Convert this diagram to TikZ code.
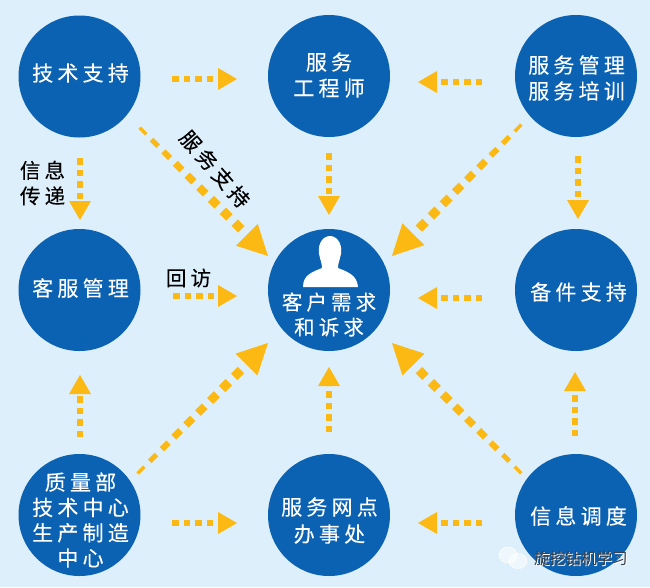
\documentclass[tikz,border=0pt]{standalone}
\usepackage{fontspec}
\usetikzlibrary{calc,arrows.meta}
\newfontfamily\cjk[LetterSpace=20,FakeBold=0.12]{Noto Sans CJK SC}
\newfontfamily\cjkw{Noto Sans CJK SC}
\definecolor{bgblue}{HTML}{DDEFFA}
\definecolor{discblue}{HTML}{0B62B2}
\definecolor{arrowgold}{HTML}{FDB913}
\definecolor{markgray}{HTML}{3A3F45}
\tikzset{
  x=1pt,y=-1pt,
  disc/.style={circle,fill=discblue,draw=none,minimum size=122pt,inner sep=0pt,outer sep=0pt},
  disctext/.style={text=white,font=\cjk\fontsize{21}{26}\selectfont,align=center,inner sep=0pt},
  note/.style={text=black,font=\cjk\fontsize{20.5}{25.5}\selectfont,align=center,inner sep=0pt},
  dotline/.style={draw=arrowgold,line width=6.5pt,dash pattern=on 6.5pt off 5pt,-{Triangle[width=22pt,length=19pt,line width=0pt,fill=arrowgold]}},
}
% tapered diagonal connector
\newcommand{\taperline}[2]{%
  \foreach \f/\w in {0/3.5,0.095/5,0.19/6,0.285/7,0.38/7.5,0.475/8,0.57/8.5,0.665/9,0.76/9}{%
    \pgfmathsetmacro{\fa}{\f-4.7/177}
    \pgfmathsetmacro{\fb}{\f+4.7/177}
    \draw[arrowgold,line width=\w pt] ($(#1)!\fa!(#2)$) -- ($(#1)!\fb!(#2)$);
  }
  \fill[arrowgold] (#2) -- ($(#1)!0.83!(#2)!15.5pt!90:(#2)$) -- ($(#1)!0.83!(#2)!15.5pt!-90:(#2)$) -- cycle;
}
\begin{document}
\begin{tikzpicture}
\fill[bgblue] (0,0) rectangle (650,587);
\useasboundingbox (0,0) rectangle (650,587);

% discs
\node[disc] (tech) at (79.5,76.5) {};
\node[disc] (eng) at (329,76) {};
\node[disc] (mgmt) at (576,76) {};
\node[disc] (cs) at (79.5,290) {};
\node[disc] (need) at (329,290) {};
\node[disc] (parts) at (576,290) {};
\node[disc] (qa) at (79.5,515) {};
\node[disc] (office) at (329,515) {};
\node[disc] (dispatch) at (576,515) {};

% labels
\node[disctext] (t1) at (80.5,73) {技术支持};
\node[disctext] (t2) at (329,75) {服务\\工程师};
\node[disctext] (t3) at (576.5,78) {服务管理\\服务培训};
\node[disctext] (t4) at (80.5,288) {客服管理};
\node[disctext] (t5) at (578.5,292) {备件支持};
\node[disctext,font=\cjk\fontsize{21}{25.3}\selectfont] (t6) at (80.5,520) {质量部\\技术中心\\生产制造\\中心};
\node[disctext,font=\cjk\fontsize{21}{27}\selectfont] (t7) at (329.5,520.5) {服务网点\\办事处};
\node[disctext] (t8) at (578.5,516) {信息调度};
\node[disctext,font=\cjk\fontsize{20.5}{25}\selectfont] (t9) at (329,314.5) {客户需求\\和诉求};

% person icon
\fill[white] (303,287) .. controls (303,275) and (312,272) .. (322,268)
  .. controls (322,264) and (321,262) .. (320,258) .. controls (316,246) and (322,236) .. (330,236)
  .. controls (338,236) and (344,246) .. (340,258) .. controls (339,262) and (338,264) .. (338,268)
  .. controls (348,272) and (357,275) .. (358,287) -- cycle;

% end points
\foreach \n/\x/\y in {a1/172/79,a2/237/79,b1/482/82,b2/418/82,c1/329/153,c2/329/215,
  d1/80/158,d2/80/220,e1/578/156,e2/578/219,f1/173/296,f2/237/296,g1/482/298,g2/418/298,
  h1/80/437,h2/80/375,i1/329/432,i2/329/367,j1/575/436,j2/575/372,k1/172/523,k2/237/523,
  l1/482/523,l2/418/523,m1/143/131,m2/268/256,n1/518/128,n2/392/256,o1/141/470,o2/268/343,p1/518/470,p2/392/343}
  {\coordinate (\n) at (\x,\y);}

\foreach \s/\t in {a1/a2,b1/b2,c1/c2,d1/d2,e1/e2,f1/f2,g1/g2,h1/h2,i1/i2,j1/j2,k1/k2,l1/l2}
  {\draw[dotline] (\s) -- (\t);}
\taperline{m1}{m2}
\taperline{n1}{n2}
\taperline{o1}{o2}
\taperline{p1}{p2}

% notes
\node[note,rotate=-49] (n1t) at (215,169) {服务支持};
\node[note] (n2t) at (188.5,278) {回访};
\node[note] (n3t) at (42.5,183) {信息\\传递};

% watermark
\draw[white,line width=0.8pt,dash pattern=on 3pt off 1pt,fill=white,fill opacity=0.5] (508,555) ellipse (9pt and 8pt);
\draw[white,line width=0.8pt,dash pattern=on 3pt off 1pt,fill=white,fill opacity=0.5] (518,561) ellipse (9pt and 7.5pt);
\node[inner sep=0pt,text=white,font=\cjkw\fontsize{15.6}{16}\selectfont] (w1) at (582,559) {旋挖钻机学习};
\node[inner sep=0pt,text=markgray,font=\cjkw\fontsize{15.6}{16}\selectfont] (w2) at (581,558) {旋挖钻机学习};
\end{tikzpicture}
\end{document}
